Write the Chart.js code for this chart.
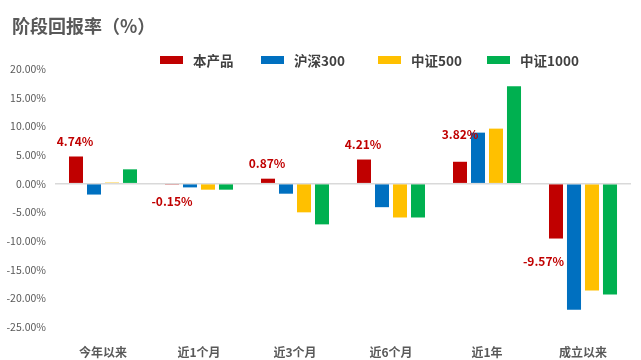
<!DOCTYPE html>
<html>
<head>
<meta charset="utf-8">
<script src="https://cdn.jsdelivr.net/npm/chart.js@4/dist/chart.umd.min.js"></script>
<style>
  html,body{margin:0;padding:0;background:#fff;}
  #wrap{position:relative;width:641px;height:360px;font-family:"Noto Sans CJK SC","Noto Sans",sans-serif;}
  #title{position:absolute;left:12px;top:12px;font-size:18px;font-weight:bold;color:#595959;line-height:26px;white-space:nowrap;}
  #legend{position:absolute;left:160px;top:50px;display:flex;align-items:center;}
  .li{display:flex;align-items:center;font-size:13.5px;font-weight:bold;color:#404040;line-height:20px;white-space:nowrap;}
  .lb{width:23px;height:8px;margin-right:10px;}
  canvas{position:absolute;left:0;top:0;}
</style>
</head>
<body>
<div id="wrap">
  <canvas id="c" width="641" height="360"></canvas>
  <div id="title">阶段回报率（%）</div>
  <div id="legend"></div>
</div>
<script>
const categories = ["今年以来", "近1个月", "近3个月", "近6个月", "近1年", "成立以来"];
const seriesNames = ["本产品", "沪深300", "中证500", "中证1000"];
const product = [4.74, -0.15, 0.87, 4.21, 3.82, -9.57];
const hs300 = [-1.9, -0.65, -1.75, -4.1, 8.9, -22.0];
const zz500 = [0.2, -1.05, -5.0, -5.9, 9.6, -18.65];
const zz1000 = [2.5, -1.05, -7.1, -5.9, 17.0, -19.35];
const yMin = -25, yMax = 20, yStep = 5;

const colors = ["#C00000", "#0070C0", "#FFC000", "#00B050"];
const FONT = '"Noto Sans CJK SC","Noto Sans",sans-serif';

// label offsets (px) relative to bar end, for product labels
const labelOffsets = [[-1,-15.5],[0,17],[-1,-15],[-1,-15],[0,-27.5],[-12.5,23]];
// legend item widths (layout)
const legendItemWidths = [101, 117, 109, 100];

const labelPlugin = {
  id: 'productLabels',
  afterDatasetsDraw(chart) {
    const ctx = chart.ctx;
    const meta = chart.getDatasetMeta(0);
    ctx.save();
    ctx.font = 'bold 12px ' + FONT;
    ctx.fillStyle = '#C00000';
    ctx.textAlign = 'center';
    ctx.textBaseline = 'middle';
    meta.data.forEach((bar, i) => {
      const v = chart.data.datasets[0].data[i];
      const off = labelOffsets[i] || [0, v >= 0 ? -15 : 17];
      ctx.fillText(v.toFixed(2) + '%', bar.x + off[0], bar.y + off[1]);
    });
    ctx.restore();
  }
};

const chart = new Chart(document.getElementById('c'), {
  type: 'bar',
  data: {
    labels: categories,
    datasets: [product, hs300, zz500, zz1000].map((d, i) => ({
      label: seriesNames[i],
      data: d,
      backgroundColor: colors[i],
      borderWidth: 0,
      categoryPercentage: 0.75,
      barPercentage: 0.78,
      minBarLength: 1
    }))
  },
  options: {
    responsive: false,
    animation: false,
    devicePixelRatio: 1,
    layout: { padding: { top: 69, right: 10, bottom: 0, left: 0 } },
    plugins: {
      legend: { display: false },
      title: { display: false },
      tooltip: { enabled: false }
    },
    scales: {
      x: {
        grid: { display: false },
        border: { display: false },
        ticks: { color: '#595959', font: { family: FONT, size: 12, weight: 'bold' }, padding: 10 },
        afterFit(s) { s.height = 33; }
      },
      y: {
        min: yMin, max: yMax,
        grid: {
          drawTicks: false,
          color: c => (c.tick && c.tick.value === 0) ? '#D9D9D9' : 'rgba(0,0,0,0)',
          lineWidth: 1.5
        },
        border: { display: false },
        ticks: {
          stepSize: yStep,
          color: '#595959',
          font: { family: FONT, size: 10.5 },
          padding: 9,
          callback: v => v.toFixed(2) + '%'
        },
        afterFit(s) { s.width = 55; }
      }
    }
  },
  plugins: [labelPlugin]
});

// HTML legend from chart datasets
const leg = document.getElementById('legend');
chart.data.datasets.forEach((ds, i) => {
  const it = document.createElement('div');
  it.className = 'li';
  it.style.width = legendItemWidths[i] + 'px';
  const b = document.createElement('span');
  b.className = 'lb';
  b.style.background = ds.backgroundColor;
  it.appendChild(b);
  it.appendChild(document.createTextNode(ds.label));
  leg.appendChild(it);
});
</script>
</body>
</html>
